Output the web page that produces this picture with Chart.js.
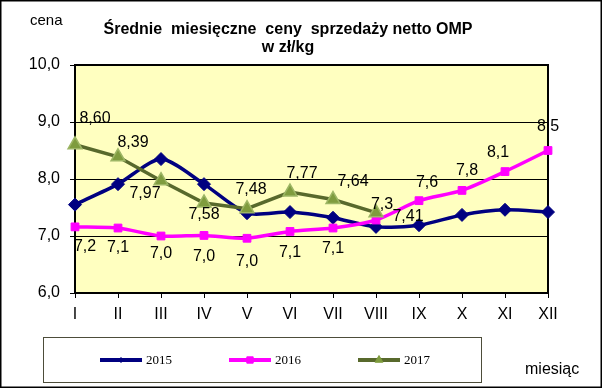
<!DOCTYPE html>
<html>
<head>
<meta charset="utf-8">
<script src="https://cdn.jsdelivr.net/npm/chart.js@4.4.0/dist/chart.umd.min.js"></script>
<style>
  html, body { margin: 0; padding: 0; background: #fff; }
  canvas { display: block; }
</style>
</head>
<body>
<canvas id="chart" width="602" height="388"></canvas>
<script>
// ── Data ──
var MONTHS = ['I', 'II', 'III', 'IV', 'V', 'VI', 'VII', 'VIII', 'IX', 'X', 'XI', 'XII'];
var SERIES_NAMES = ['2015', '2016', '2017'];
var PRICES_2015 = [7.55, 7.91, 8.35, 7.91, 7.40, 7.42, 7.32, 7.16, 7.19, 7.37, 7.46, 7.42];
var PRICES_2016 = [7.16, 7.14, 7.00, 7.01, 6.96, 7.08, 7.14, 7.28, 7.62, 7.80, 8.13, 8.50];
var PRICES_2017 = [8.60, 8.39, 7.97, 7.58, 7.48, 7.77, 7.64, 7.41, null, null, null, null];
var Y_TICKS = [6, 7, 8, 9, 10];

// label offsets (px) relative to each point
var OFFSETS_2016 = [[10, 20], [0, 20], [0, 18], [0, 21], [0, 23], [0, 21], [0, 21],
                    [6, -15], [8, -18], [5, -20], [-7, -19], [0, -24]];
var OFFSETS_2017 = [[20, -26], [15, -14], [-16, 13], [0, 12], [4, -19], [12, -19],
                    [20, -18], [32, 4]];

var NAVY = '#000080';
var PINK = '#ff00ff';
var OLIVE = '#58692c';
var OLIVE_FILL = '#7f9c3e';

function fmt(v, d) { return v.toFixed(d).replace('.', ','); }

var decorPlugin = {
  id: 'decor',
  beforeDraw: function(chart) {
    var c = chart.ctx, a = chart.chartArea;
    c.save();
    c.fillStyle = '#fff';
    c.fillRect(0, 0, chart.width, chart.height);
    c.fillStyle = '#ffffc0';
    c.fillRect(a.left, a.top, a.right - a.left, a.bottom - a.top);
    c.restore();
  },
  beforeDatasetsDraw: function(chart) {
    var c = chart.ctx, a = chart.chartArea;
    c.save();
    c.strokeStyle = '#000';
    c.lineWidth = 2;
    c.strokeRect(a.left, a.top, a.right - a.left, a.bottom - a.top);
    c.restore();
  },
  afterDatasetsDraw: function(chart) {
    var c = chart.ctx;
    c.save();
    c.fillStyle = '#000';
    c.font = '16px "Liberation Sans", Arial, sans-serif';
    c.textAlign = 'center';
    c.textBaseline = 'middle';
    var m16 = chart.getDatasetMeta(1);
    for (var i = 0; i < PRICES_2016.length; i++) {
      var p = m16.data[i];
      c.fillText(fmt(PRICES_2016[i], 1), p.x + OFFSETS_2016[i][0], p.y + OFFSETS_2016[i][1]);
    }
    var m17 = chart.getDatasetMeta(2);
    for (var j = 0; j < OFFSETS_2017.length; j++) {
      if (PRICES_2017[j] === null) continue;
      var q = m17.data[j];
      c.fillText(fmt(PRICES_2017[j], 2), q.x + OFFSETS_2017[j][0], q.y + OFFSETS_2017[j][1]);
    }

    // titles
    c.font = 'bold 16px "Liberation Sans", Arial, sans-serif';
    c.fillText('Średnie  miesięczne  ceny  sprzedaży netto OMP', 288, 30);
    c.fillText('w zł/kg', 288, 48);
    c.font = '15px "Liberation Sans", Arial, sans-serif';
    c.textAlign = 'left';
    c.fillText('cena', 30, 21);
    c.font = '16px "Liberation Sans", Arial, sans-serif';
    c.fillText('miesiąc', 525, 370);

    // legend
    c.strokeStyle = '#4d4d3a';
    c.lineWidth = 1;
    c.strokeRect(43.5, 337.5, 438, 45);
    var items = [
      { x: 100, color: NAVY, style: 'rectRot', r: 2.5, fill: NAVY },
      { x: 229, color: PINK, style: 'rect', r: 4.5, fill: PINK },
      { x: 358, color: OLIVE, style: 'triangle', r: 4.5, fill: OLIVE_FILL }
    ];
    var ly = 360;
    c.font = '13px "Liberation Serif", "Times New Roman", serif';
    c.textBaseline = 'middle';
    for (var k = 0; k < items.length; k++) {
      var it = items[k];
      c.strokeStyle = it.color;
      c.lineWidth = 4;
      c.beginPath();
      c.moveTo(it.x, ly);
      c.lineTo(it.x + 42, ly);
      c.stroke();
      c.fillStyle = it.fill;
      c.strokeStyle = it.fill;
      c.lineWidth = 1;
      Chart.helpers.drawPoint(c, { pointStyle: it.style, radius: it.r, rotation: 0, borderWidth: 1 }, it.x + 21, ly);
      c.fillStyle = '#000';
      c.fillText(SERIES_NAMES[k], it.x + 46, ly + 1);
    }

    // outer frame
    c.strokeStyle = '#000';
    c.lineWidth = 1.5;
    c.strokeRect(0.75, 0.75, chart.width - 1.5, chart.height - 1.5);
    c.restore();
  }
};

new Chart(document.getElementById('chart'), {
  type: 'line',
  data: {
    labels: MONTHS,
    datasets: [
      {
        label: SERIES_NAMES[0], data: PRICES_2015, order: 3,
        borderColor: NAVY, backgroundColor: NAVY, borderWidth: 3.5,
        pointStyle: 'rectRot', pointRadius: 6.5, pointBorderWidth: 1,
        pointBackgroundColor: NAVY, pointBorderColor: NAVY, tension: 0.25, clip: false
      },
      {
        label: SERIES_NAMES[1], data: PRICES_2016, order: 2,
        borderColor: PINK, backgroundColor: PINK, borderWidth: 3.5,
        pointStyle: 'rect', pointRadius: 5.5, pointBorderWidth: 1,
        pointBackgroundColor: PINK, pointBorderColor: PINK, tension: 0.25, clip: false
      },
      {
        label: SERIES_NAMES[2], data: PRICES_2017, order: 1,
        borderColor: OLIVE, backgroundColor: OLIVE_FILL, borderWidth: 3.5,
        pointStyle: 'triangle', pointRadius: 8, pointBorderWidth: 1.5,
        pointBackgroundColor: OLIVE_FILL, pointBorderColor: '#9db665', tension: 0, clip: false
      }
    ]
  },
  options: {
    responsive: false,
    animation: false,
    events: [],
    layout: { padding: { top: 65, right: 54, bottom: 65, left: 0 } },
    plugins: { legend: { display: false }, title: { display: false }, tooltip: { enabled: false } },
    scales: {
      x: {
        offset: false,
        afterFit: function(s) { s.height = 30; },
        grid: { drawOnChartArea: false, drawTicks: true, tickLength: 5, color: '#000' },
        border: { display: false },
        ticks: { color: '#000', padding: 7, font: { family: '"Liberation Sans", Arial, sans-serif', size: 16 }, maxRotation: 0, autoSkip: false }
      },
      y: {
        min: 6, max: 10,
        afterFit: function(s) { s.width = 75; },
        afterBuildTicks: function(s) { s.ticks = Y_TICKS.map(function(v) { return { value: v }; }); },
        grid: { color: '#000', lineWidth: 1, tickLength: 5 },
        border: { display: false },
        ticks: {
          color: '#000', padding: 10,
          font: { family: '"Liberation Sans", Arial, sans-serif', size: 16 },
          callback: function(v) { return fmt(v, 1); }
        }
      }
    }
  },
  plugins: [decorPlugin]
});
</script>
</body>
</html>
